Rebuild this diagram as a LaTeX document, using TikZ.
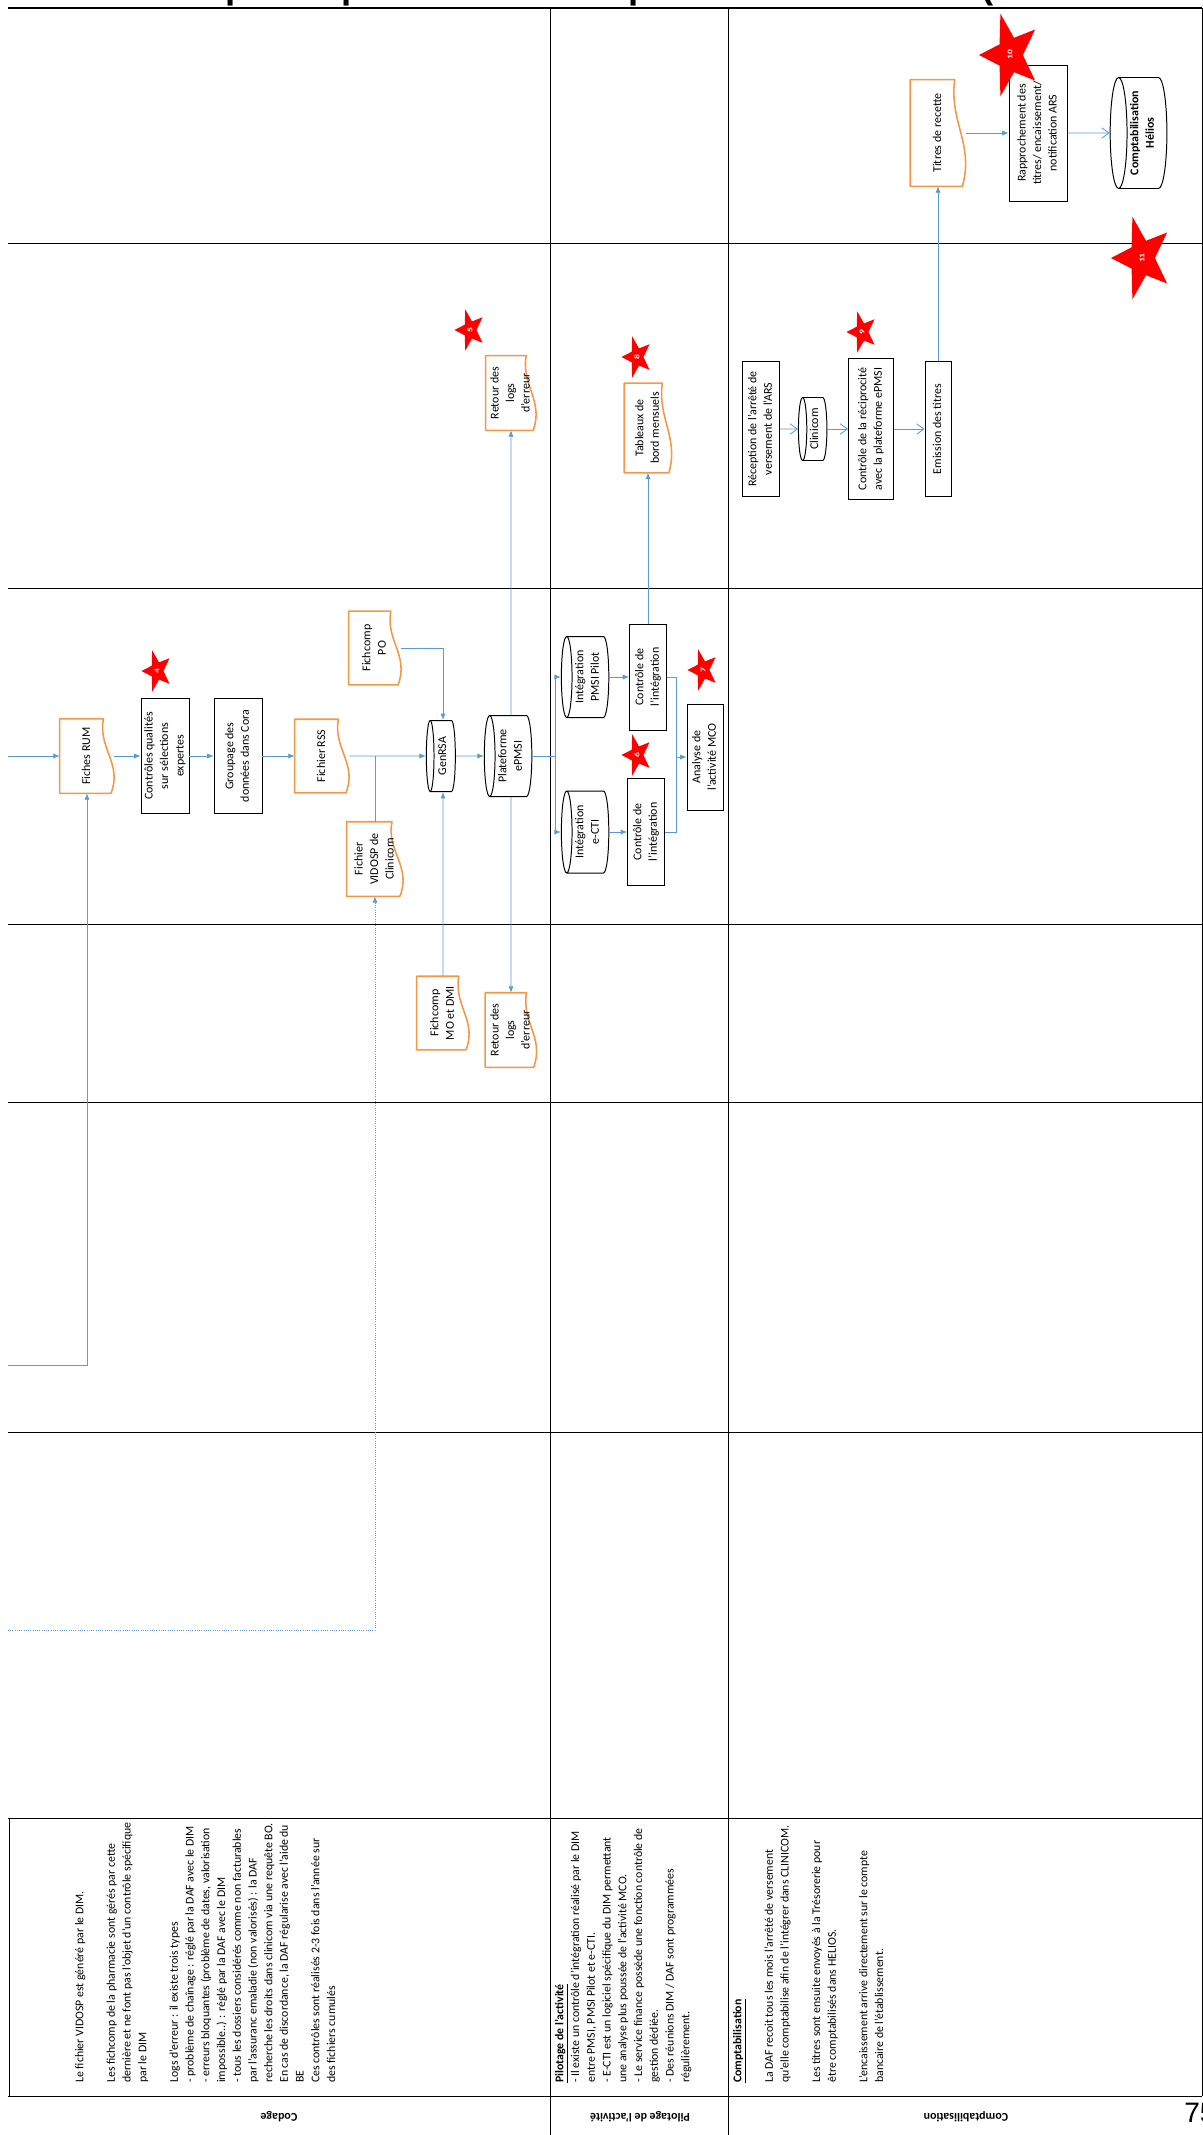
\documentclass[tikz,border=0pt]{standalone}
\usepackage{fontspec}
\setmainfont{Carlito}
\newfontfamily\titlefont{Liberation Sans}
\usepackage{graphicx}
\usetikzlibrary{arrows.meta,calc,shapes.geometric}
\definecolor{flowblue}{HTML}{5B9BD5}
\definecolor{docorange}{HTML}{F79646}
\definecolor{starred}{HTML}{FF0000}
\newcommand{\vtxt}[1]{\rotatebox{90}{\begin{tabular}{@{}c@{}}#1\end{tabular}}}
\newcommand{\vpar}[1]{\rotatebox{90}{\begin{tabular}{@{}l@{}}#1\end{tabular}}}

\begin{document}
\begin{tikzpicture}[x=0.25mm, y=-0.25mm,
  sz/.style 2 args={minimum width=#1*0.25mm, minimum height=#2*0.25mm},
  szc/.style 2 args={minimum height=#1*0.25mm, minimum width=#2*0.25mm},
  lane/.style={draw=black, line width=0.6pt},
  proc/.style={rectangle, draw=black, line width=0.6pt, inner sep=0pt, font=\fontsize{8.5}{11}\selectfont},
  docu/.style={rectangle, inner sep=0pt, font=\fontsize{8.5}{11}\selectfont,
    append after command={\pgfextra{\draw[docorange, line width=1.1pt, line join=round]
      let \p1=(\tikzlastnode.south west), \p2=(\tikzlastnode.north east) in
      (\x1,\y2) -- (\x1,\y1) -- ({\x2-0.06*(\x2-\x1)},\y1)
      .. controls ({\x2+0.15*(\x2-\x1)},{\y1+0.4*(\y2-\y1)}) and ({\x2-0.3*(\x2-\x1)},{\y1+0.6*(\y2-\y1)}) ..
      ({\x2-0.2*(\x2-\x1)},\y2) -- cycle;}}},
  dbase/.style={cylinder, shape border rotate=180, aspect=0.2, draw=black, line width=0.7pt, inner sep=0pt, font=\fontsize{8.5}{11}\selectfont},
  etoile/.style={star, star points=5, star point ratio=2.4, shape border rotate=90, fill=starred, inner sep=0pt, yscale=1.4, text=white, font=\fontsize{5}{5}\selectfont\bfseries},
  note/.style={anchor=south west, inner sep=0pt, font=\fontsize{8.4}{11.2}\selectfont},
  lanehd/.style={rotate=180, inner sep=0pt, font=\fontsize{8.5}{8.5}\selectfont\bfseries},
  flow/.style={draw=flowblue, line width=0.6pt},
  arr/.style={flow, -{Latex[length=1.6mm, width=1.3mm]}},
  arro/.style={flow, -{Straight Barb[length=1.8mm, width=2.6mm]}},
  arrdot/.style={arr, densely dotted}
]
\useasboundingbox (0,0) rectangle (1203,2135);

\node[anchor=base west, inner sep=0pt, font=\titlefont\bfseries\fontsize{26}{26}\selectfont] (titre) at (128,-1) {Exemple de processus de séparation des tâches (recettes T2A)};

\draw[lane, line width=0.9pt] (8,8) -- (1202,8);
\foreach \yy in {243,588,924,1102,1432,1818,2096} \draw[lane] (8,\yy) -- (1202,\yy);
\foreach \xx in {550,728} \draw[lane] (\xx,8) -- (\xx,2135);
\draw[lane] (1202,8) -- (1202,2096);
\draw[lane] (9,1818) -- (9,2096);

% Codage
\node[docu, sz={54}{74}] (rum) at (87,756) {\vtxt{Fiches RUM}};
\node[proc, sz={48}{115}] (ctrlq) at (165,756) {\vtxt{Contrôles qualités\\sur sélections\\expertes}};
\node[proc, sz={48}{115}] (groupage) at (238,756) {\vtxt{Groupage des\\données dans Cora}};
\node[docu, sz={54}{73}] (rss) at (322,756) {\vtxt{Fichier RSS}};
\node[docu, sz={52}{73}] (fpo) at (375,648) {\vtxt{Fichcomp\\PO}};
\node[docu, sz={56}{74}] (vidosp) at (375,859) {\vtxt{Fichier\\VIDOSP de\\Clinicom}};
\node[dbase, szc={29}{71}] (genrsa) at (443,756) {\vtxt{GenRSA}};
\node[docu, sz={52}{73}] (fmo) at (443,1013) {\vtxt{Fichcomp\\MO et DMI}};
\node[dbase, szc={44}{81}] (epmsi) at (511,756) {\vtxt{Plateforme\\ePMSI}};
\node[docu, sz={50}{74}] (logs1) at (511,393) {\vtxt{Retour des\\logs\\d'erreur}};
\node[docu, sz={51}{74}] (logs2) at (511,1030) {\vtxt{Retour des\\logs\\d'erreur}};

% Pilotage
\node[dbase, szc={41}{81}] (pmsip) at (588,677) {\vtxt{Intégration\\PMSI Pilot}};
\node[dbase, szc={41}{82}] (ecti) at (588,832) {\vtxt{Intégration\\e-CTI}};
\node[proc, sz={37}{106}] (ctrl1) at (648,677) {\vtxt{Contrôle de\\l'intégration}};
\node[proc, sz={37}{107}] (ctrl2) at (646,832) {\vtxt{Contrôle de\\l'intégration}};
\node[proc, sz={36}{106}] (analyse) at (705,757) {\vtxt{Analyse de\\l'activité MCO}};
\node[docu, sz={47}{89}] (tableau) at (648,428) {\vtxt{Tableaux de\\bord mensuels}};

% Comptabilisation
\node[proc, sz={37}{135}] (reception) at (761,429) {\vtxt{Réception de l'arrêté de\\versement de l'ARS}};
\node[dbase, szc={27}{63}] (clinicom) at (815,429) {\vtxt{Clinicom}};
\node[proc, sz={45}{141}] (ctrlr) at (871,429) {\vtxt{Contrôle de la réciprocité\\avec la plateforme ePMSI}};
\node[proc, sz={26}{135}] (emission) at (938,429) {\vtxt{Emission des titres}};
\node[docu, sz={55}{106}] (titres) at (938,133) {\vtxt{Titres de recette}};
\node[proc, sz={58}{136}] (rappro) at (1038,133) {\vtxt{Rapprochement des\\titres/ encaissement/\\notification ARS}};
\node[dbase, szc={47}{111}] (helios) at (1143,133) {\vtxt{\textbf{Comptabilisation}\\\textbf{Hélios}}};

\node[etoile, minimum size=31*0.25mm] (s4) at (157,671) {\rotatebox{90}{4}};
\node[etoile, minimum size=31*0.25mm] (s5) at (470,330) {\rotatebox{90}{5}};
\node[etoile, minimum size=31*0.25mm] (s6) at (637,755) {\rotatebox{90}{6}};
\node[etoile, minimum size=31*0.25mm] (s7) at (703,670) {\rotatebox{90}{7}};
\node[etoile, minimum size=31*0.25mm] (s8) at (637,357) {\rotatebox{90}{8}};
\node[etoile, minimum size=31*0.25mm] (s9) at (862,332) {\rotatebox{90}{9}};
\node[etoile, minimum size=62*0.25mm] (s10) at (1010,55) {\rotatebox{90}{10}};
\node[etoile, minimum size=62*0.25mm] (s11) at (1142,258) {\rotatebox{90}{11}};

\coordinate (in1) at (8,756);
\coordinate (in2) at (8,1365);
\coordinate (in3) at (8,1630);
\coordinate (split) at (555,756);
\coordinate (merge) at (676,757);

\draw[arr] (in1) -- (rum); \draw[arr] (in2) -| (rum); \draw[arrdot] (in3) -| (vidosp);
\draw[arr] (rum) -- (ctrlq); \draw[arr] (ctrlq) -- (groupage); \draw[arr] (groupage) -- (rss);
\draw[arr] (rss) -- (genrsa); \draw[flow] (vidosp) -- (vidosp |- rss);
\draw[arr] (fpo) -| (genrsa); \draw[arr] (fmo) -- (genrsa);
\draw[arr] (genrsa) -- (epmsi);
\draw[arr] (epmsi) -- (logs1); \draw[arr] (epmsi) -- (logs2);
\draw[arr] (epmsi) -- (split) |- (pmsip); \draw[arr] (epmsi) -- (split) |- (ecti);
\draw[arr] (pmsip) -- (ctrl1); \draw[arr] (ecti) -- (ctrl2);
\draw[flow] (ctrl1) -| (merge); \draw[arr] (ctrl2) -| (merge) -- (analyse);
\draw[arr] (ctrl1) -- (tableau);
\draw[arro] (reception) -- (clinicom); \draw[arro] (clinicom) -- (ctrlr); \draw[arro] (ctrlr) -- (emission);
\draw[arr] (emission) -- (titres);
\draw[arr] (titres) -- (rappro); \draw[arro] (rappro) -- (helios);

\node[note] (notecod) at (72,2083) {\vpar{Le fichier VIDOSP est généré par le DIM.\\
\\
Les fichcomp de la pharmacie sont gérés par cette\\
dernière et ne font pas l'objet d'un contrôle spécifique\\
par le DIM\\
\\
Logs d'erreur : il existe trois types\\
- problème de chaînage : réglé par la DAF avec le DIM\\
- erreurs bloquantes (problème de dates, valorisation\\
impossible..) : réglé par la DAF avec le DIM\\
- tous les dossiers considérés comme non facturables\\
par l'assuranc emaladie (non valorisés) : la DAF\\
recherche les droits dans clinicom via une requête BO.\\
En cas de discordance, la DAF régularise avec l'aide du\\
BE\\
Ces contrôles sont réalisés 2-3 fois dans l'année sur\\
des fichiers cumulés}};
\node[note] (notepil) at (552,2083) {\vpar{\underline{\textbf{Pilotage de l'activité}}\\
- Il existe un contrôle d'intégration réalisé par le DIM\\
entre PMSI, PMSI Pilot et e-CTI.\\
- E-CTI est un logiciel spécifique du DIM permettant\\
une analyse plus poussée de l'activité MCO.\\
- Le service finance possède une fonction contrôle de\\
gestion dédiée.\\
- Des réunions DIM / DAF sont programmées\\
régulièrement.}};
\node[note] (notecpt) at (730,2083) {\vpar{\underline{\textbf{Comptabilisation}}\\
\\
La DAF recoit tous les mois l'arrêté de versement\\
qu'elle comptabilise afin de l'intégrer dans CLINICOM.\\
\\
Les titres sont ensuite envoyés à la Trésorerie pour\\
être comptabilisés dans HELIOS.\\
\\
L'encaissement arrive directement sur le compte\\
bancaire de l'établissement.}};

\node[lanehd] (hdcod) at (279,2117) {Codage};
\node[lanehd] (hdpil) at (640,2117) {Pilotage de l'activité};
\node[lanehd] (hdcpt) at (966,2117) {Comptabilisation};
\node[anchor=base west, inner sep=0pt, font=\titlefont\fontsize{20}{20}\selectfont] (page) at (1184,2122) {75};
\end{tikzpicture}
\end{document}
